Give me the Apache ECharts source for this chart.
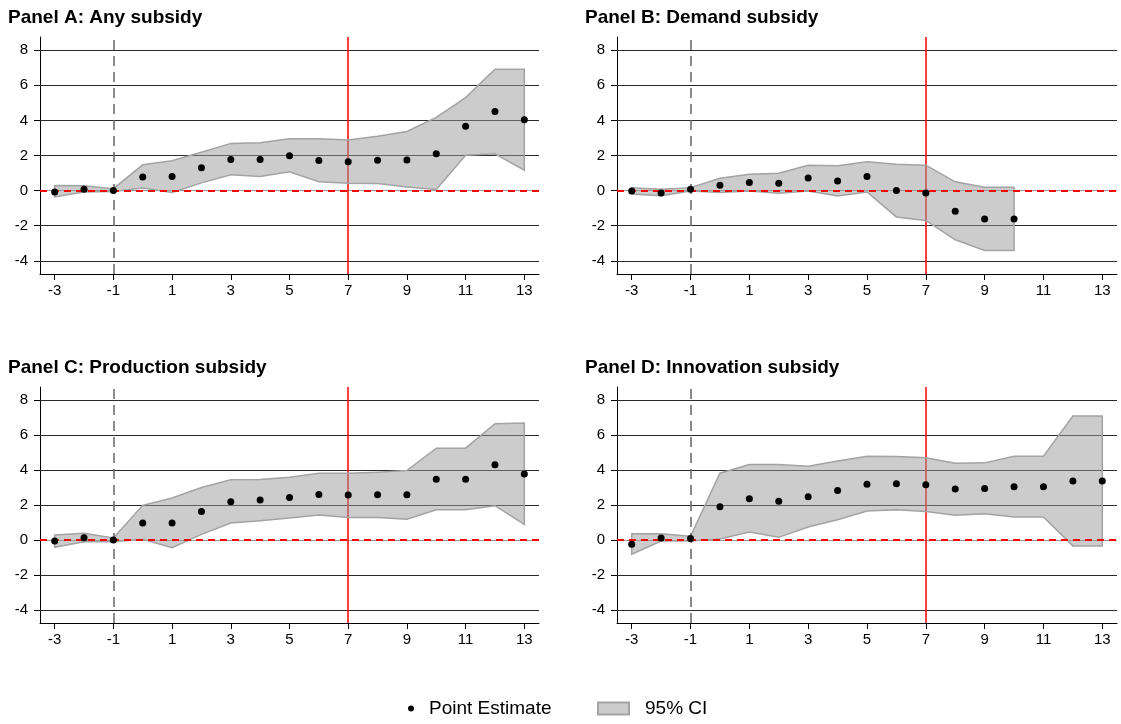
<!DOCTYPE html>
<html><head><meta charset="utf-8">
<script src="https://cdn.jsdelivr.net/npm/echarts@6/dist/echarts.min.js"></script>
<style>html,body{margin:0;padding:0;background:#fff}#c{width:1121px;height:724px}</style>
</head><body><div id="c"></div>
<script>
// ---- data ----
const xTicks = [-3, -1, 1, 3, 5, 7, 9, 11, 13];
const yTicks = [-4, -2, 0, 2, 4, 6, 8];

const titleA = 'Panel A: Any subsidy';
const xA = [-3, -2, -1, 0, 1, 2, 3, 4, 5, 6, 7, 8, 9, 10, 11, 12, 13];
const estA = [-0.08, 0.08, 0.0, 0.78, 0.8, 1.3, 1.77, 1.77, 1.98, 1.71, 1.64, 1.73, 1.75, 2.1, 3.66, 4.5, 4.04];
const hiA = [0.29, 0.27, 0.11, 1.47, 1.7, 2.19, 2.69, 2.72, 2.95, 2.95, 2.88, 3.1, 3.37, 4.17, 5.3, 6.91, 6.91];
const loA = [-0.36, -0.08, -0.05, 0.15, -0.11, 0.44, 0.9, 0.8, 1.07, 0.51, 0.42, 0.4, 0.21, 0.06, 2.02, 2.1, 1.16];

const titleB = 'Panel B: Demand subsidy';
const xB = [-3, -2, -1, 0, 1, 2, 3, 4, 5, 6, 7, 8, 9, 10];
const estB = [-0.02, -0.13, 0.08, 0.3, 0.46, 0.42, 0.72, 0.55, 0.8, 0.0, -0.13, -1.18, -1.62, -1.62];
const hiB = [0.17, 0.08, 0.17, 0.7, 0.93, 0.99, 1.45, 1.41, 1.64, 1.5, 1.45, 0.5, 0.19, 0.19];
const loB = [-0.19, -0.29, -0.02, -0.11, -0.02, -0.15, -0.02, -0.3, -0.08, -1.5, -1.7, -2.8, -3.41, -3.41];

const titleC = 'Panel C: Production subsidy';
const xC = [-3, -2, -1, 0, 1, 2, 3, 4, 5, 6, 7, 8, 9, 10, 11, 12, 13];
const estC = [-0.06, 0.13, 0.0, 0.97, 0.97, 1.63, 2.19, 2.28, 2.43, 2.6, 2.57, 2.59, 2.59, 3.48, 3.48, 4.3, 3.78];
const hiC = [0.29, 0.38, 0.11, 1.98, 2.4, 3.0, 3.44, 3.46, 3.59, 3.82, 3.82, 3.88, 3.97, 5.25, 5.25, 6.65, 6.69];
const loC = [-0.42, -0.1, -0.1, 0.04, -0.44, 0.32, 0.97, 1.1, 1.25, 1.43, 1.29, 1.29, 1.18, 1.73, 1.73, 1.96, 0.89];

const titleD = 'Panel D: Innovation subsidy';
const xD = [-3, -2, -1, 0, 1, 2, 3, 4, 5, 6, 7, 8, 9, 10, 11, 12, 13];
const estD = [-0.25, 0.11, 0.08, 1.9, 2.36, 2.22, 2.47, 2.83, 3.19, 3.21, 3.16, 2.91, 2.95, 3.04, 3.04, 3.38, 3.38];
const hiD = [0.36, 0.36, 0.21, 3.82, 4.32, 4.32, 4.22, 4.52, 4.79, 4.77, 4.7, 4.39, 4.41, 4.79, 4.79, 7.09, 7.09];
const loD = [-0.82, -0.06, -0.06, 0.06, 0.46, 0.15, 0.74, 1.16, 1.65, 1.73, 1.63, 1.41, 1.5, 1.31, 1.31, -0.34, -0.34];

const treatLine = -1;
const policyLine = 7;

// ---- chart ----
const FONT = "'Liberation Sans', Arial, Helvetica, sans-serif";
const panels = [
  {title: titleA, x: xA, est: estA, lo: loA, hi: hiA},
  {title: titleB, x: xB, est: estB, lo: loB, hi: hiB},
  {title: titleC, x: xC, est: estC, lo: loC, hi: hiC},
  {title: titleD, x: xD, est: estD, lo: loD, hi: hiD}
];
const grids = [
  {left: 40, top: 37, width: 499, height: 237},
  {left: 617, top: 37, width: 500, height: 237},
  {left: 40, top: 387, width: 499, height: 236},
  {left: 617, top: 387, width: 500, height: 236}
];
const titlePos = [{left: 8, top: 8}, {left: 585, top: 8}, {left: 8, top: 358}, {left: 585, top: 358}];

const option = {
  animation: false,
  backgroundColor: '#fff',
  textStyle: {fontFamily: FONT},
  title: panels.map((p, i) => ({
    text: p.title, left: titlePos[i].left, top: titlePos[i].top, padding: 0,
    textStyle: {fontSize: 19, fontWeight: 'bold', color: '#000', fontFamily: FONT}
  })),
  grid: grids,
  xAxis: grids.map((g, i) => ({
    type: 'value', gridIndex: i, min: -3.5, max: 13.5,
    axisLine: {show: true, onZero: false, lineStyle: {color: '#000', width: 1}},
    axisTick: {show: true, length: 6, customValues: xTicks, lineStyle: {color: '#000'}},
    axisLabel: {customValues: xTicks, fontSize: 15, color: '#000', margin: 9, fontFamily: FONT},
    splitLine: {show: false}
  })),
  yAxis: grids.map((g, i) => ({
    type: 'value', gridIndex: i, min: -4.75, max: 8.75,
    axisLine: {show: true, onZero: false, lineStyle: {color: '#000', width: 1}},
    axisTick: {show: true, length: 6, customValues: yTicks, lineStyle: {color: '#000'}},
    axisLabel: {customValues: yTicks, fontSize: 15, color: '#000', margin: 12, fontFamily: FONT},
    splitLine: {show: false}
  })),
  legend: [
    {data: [{name: 'Point Estimate', icon: 'circle', itemStyle: {color: '#000', opacity: 1}}], left: 408, top: 699, padding: 0,
     itemWidth: 6, itemHeight: 6, selectedMode: false,
     textStyle: {fontSize: 19, color: '#000', fontFamily: FONT, padding: [0, 0, 0, 10]}},
    {data: [{name: '95% CI', icon: 'rect', itemStyle: {color: '#cccccc', borderColor: '#a3a3a3', borderWidth: 2}}],
     left: 597, top: 699, padding: 0, itemWidth: 31, itemHeight: 12, selectedMode: false,
     textStyle: {fontSize: 19, color: '#000', fontFamily: FONT, padding: [0, 0, 0, 11]}}
  ],
  series: []
};

panels.forEach((p, i) => {
  // background lines: grid lines + policy line
  option.series.push({
    type: 'line', name: 'bg' + i, xAxisIndex: i, yAxisIndex: i, data: [], silent: true,
    markLine: {
      silent: true, symbol: 'none', z: 1, animation: false, label: {show: false},
      data: yTicks.map(v => ({yAxis: v, lineStyle: {color: v === 0 ? '#999' : '#2a2a2a', width: 1, type: 'solid'}}))
        .concat([{xAxis: policyLine, lineStyle: {color: '#ff0000', width: 1.5, type: 'solid'}}])
    }
  });
  // CI band
  option.series.push({
    type: 'custom', name: '95% CI', xAxisIndex: i, yAxisIndex: i, z: 2, silent: true,
    itemStyle: {color: '#cccccc'},
    data: p.x.map((x, k) => [x, p.lo[k], p.hi[k]]),
    encode: {x: 0, y: [1, 2]},
    renderItem: function (params, api) {
      if (params.dataIndex !== 0) return null;
      const pts = [];
      for (let k = 0; k < p.x.length; k++) pts.push(api.coord([p.x[k], p.hi[k]]));
      for (let k = p.x.length - 1; k >= 0; k--) pts.push(api.coord([p.x[k], p.lo[k]]));
      return {type: 'polygon', shape: {points: pts},
        style: {fill: 'rgba(153,153,153,0.5)', stroke: '#a3a3a3', lineWidth: 1.5}};
    }
  });
  // reference lines above band
  option.series.push({
    type: 'line', name: 'ref' + i, xAxisIndex: i, yAxisIndex: i, data: [], silent: true,
    markLine: {
      silent: true, symbol: 'none', z: 3, animation: false, label: {show: false},
      data: [
        {yAxis: 0, lineStyle: {color: '#ff0000', width: 2, type: [7, 5]}},
        {xAxis: treatLine, lineStyle: {color: '#666', width: 1.5, type: [10, 6]}}
      ]
    }
  });
  // point estimates
  option.series.push({
    type: 'scatter', name: 'Point Estimate', xAxisIndex: i, yAxisIndex: i, z: 4,
    symbol: 'circle', symbolSize: 7, itemStyle: {color: '#000', opacity: 1},
    data: p.x.map((x, k) => [x, p.est[k]])
  });
});

const chart = echarts.init(document.getElementById('c'), null, {renderer: 'canvas'});
chart.setOption(option);
</script>
</body></html>
